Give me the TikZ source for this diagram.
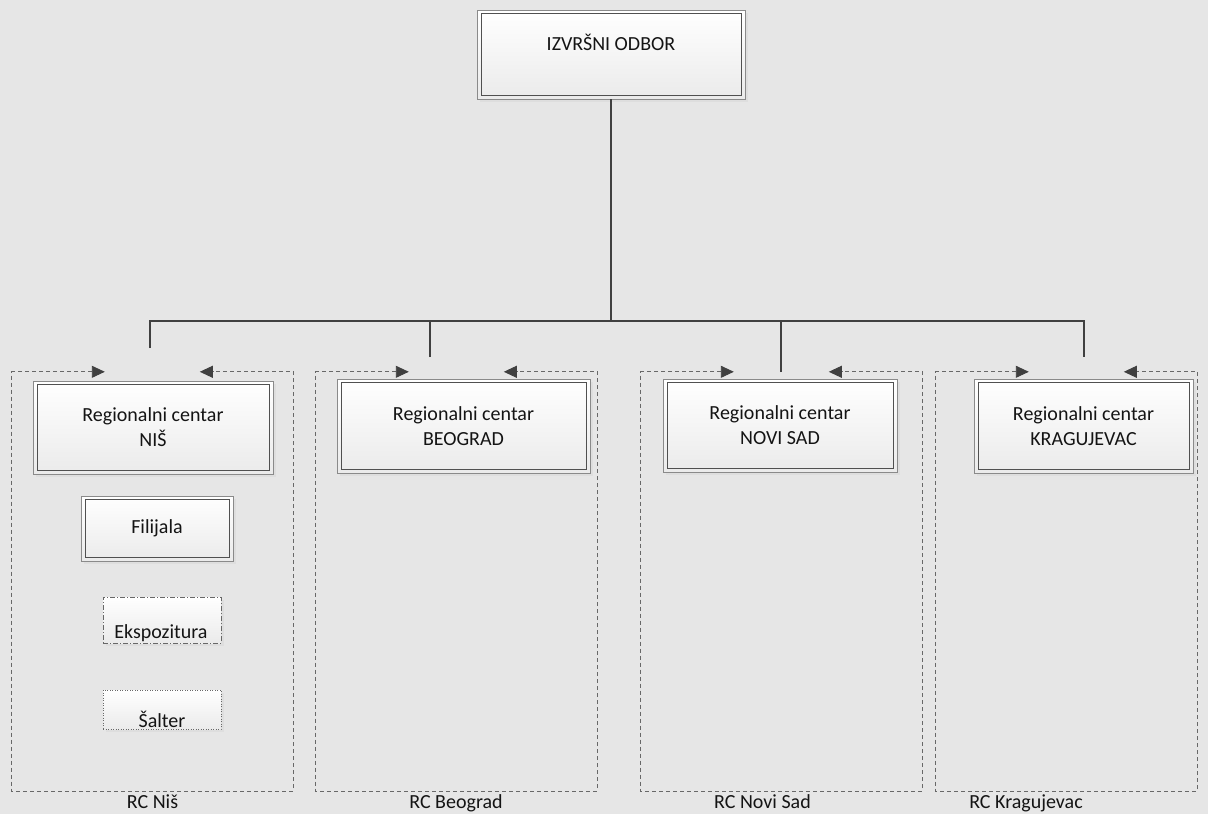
\documentclass[tikz,border=0pt]{standalone}
\usepackage{fontspec}
\setmainfont{Carlito}
\usetikzlibrary{arrows.meta,shadows,calc}
\definecolor{bgc}{HTML}{E6E6E6}
\definecolor{connc}{HTML}{404040}
\definecolor{outerc}{HTML}{8A8A8A}
\definecolor{innerc}{HTML}{505050}
\definecolor{dashc}{HTML}{686868}
\begin{document}
\begin{tikzpicture}[x=1pt,y=-1pt,
  every node/.style={font=\fontsize{20}{25}\selectfont, text=black!92},
  boxbase/.style={inner sep=0pt, align=center, line width=0.9pt,
    top color=white, bottom color=black!8,
    drop shadow={shadow xshift=3pt, shadow yshift=-3pt, fill=black!13, opacity=1}},
  orgbox/.style={boxbase, draw=outerc},
  dashdotbox/.style={boxbase, draw=dashc, dash pattern=on 5pt off 2pt on 1pt off 2pt},
  dotbox/.style={boxbase, draw=dashc, dash pattern=on 1pt off 1.5pt},
  innerframe/.style={draw=innerc, line width=0.9pt},
  contbox/.style={inner sep=0pt, draw=none},
  contline/.style={draw=dashc, line width=0.9pt, dash pattern=on 4pt off 3pt,
    {Triangle[length=13pt,width=12pt,color=connc]}-{Triangle[length=13pt,width=12pt,color=connc]}},
  connline/.style={draw=connc, line width=2pt},
  txt/.style={anchor=base, inner sep=0pt}
]
\fill[bgc] (0,0) rectangle (1208,814);
\useasboundingbox (0,0) rectangle (1208,814);

% containers
\node[contbox, minimum width=281pt, minimum height=419pt] (c1) at (152.5,581.5) {};
\node[contbox, minimum width=281pt, minimum height=419pt] (c2) at (456.5,581.5) {};
\node[contbox, minimum width=281pt, minimum height=419pt] (c3) at (781.5,581.5) {};
\node[contbox, minimum width=261pt, minimum height=419pt] (c4) at (1066.5,581.5) {};
\foreach \c in {c1,c2,c3,c4}{
  \draw[contline] ([xshift=93pt]\c.north west) -- (\c.north west) -- (\c.south west)
     -- (\c.south east) -- (\c.north east) -- ([xshift=188pt]\c.north west);
}

% boxes
\node[orgbox, minimum width=268pt, minimum height=89pt] (ceo) at (611,54.5) {};
\node[orgbox, minimum width=240pt, minimum height=93pt] (nis) at (153,427.5) {Regionalni centar\\NIŠ};
\node[orgbox, minimum width=253pt, minimum height=94pt] (bgd) at (463.5,426) {Regionalni centar\\BEOGRAD};
\node[orgbox, minimum width=234pt, minimum height=93pt] (ns) at (780,425.5) {Regionalni centar\\NOVI SAD};
\node[orgbox, minimum width=219pt, minimum height=94pt] (kg) at (1083.5,426) {Regionalni centar\\KRAGUJEVAC};
\node[orgbox, minimum width=152pt, minimum height=65pt] (fil) at (157,528.5) {Filijala};
\node[dashdotbox, minimum width=118pt, minimum height=46pt] (eks) at (162,620) {};
\node[dotbox, minimum width=118pt, minimum height=39pt] (sal) at (162,709.5) {};
\foreach \n in {ceo,nis,bgd,ns,kg,fil}{
  \draw[innerframe] ([shift={(4.5,4)}]\n.north west) rectangle ([shift={(-4,-4)}]\n.south east);
}
\node[txt] (ceoT) at (611,50) {IZVRŠNI ODBOR};
\node[txt] (eksT) at (161,638) {Ekspozitura};
\node[txt] (salT) at (162,727) {Šalter};

% container labels
\node[txt] (l1) at (152.5,808) {RC Niš};
\node[txt] (l2) at (456,808) {RC Beograd};
\node[txt] (l3) at (762.5,808) {RC Novi Sad};
\node[txt] (l4) at (1026,808) {RC Kragujevac};

% connectors
\coordinate (bus) at (611,321);
\coordinate (d1) at (150,348);
\coordinate (d2) at (430,357);
\coordinate (d3) at (781,372);
\coordinate (d4) at (1084,357);
\draw[connline] (ceo.south) -- (bus);
\draw[connline] (d1) |- (bus) -| (d4);
\draw[connline] (d2) -- (d2 |- bus);
\draw[connline] (d3) -- (d3 |- bus);
\end{tikzpicture}
\end{document}
